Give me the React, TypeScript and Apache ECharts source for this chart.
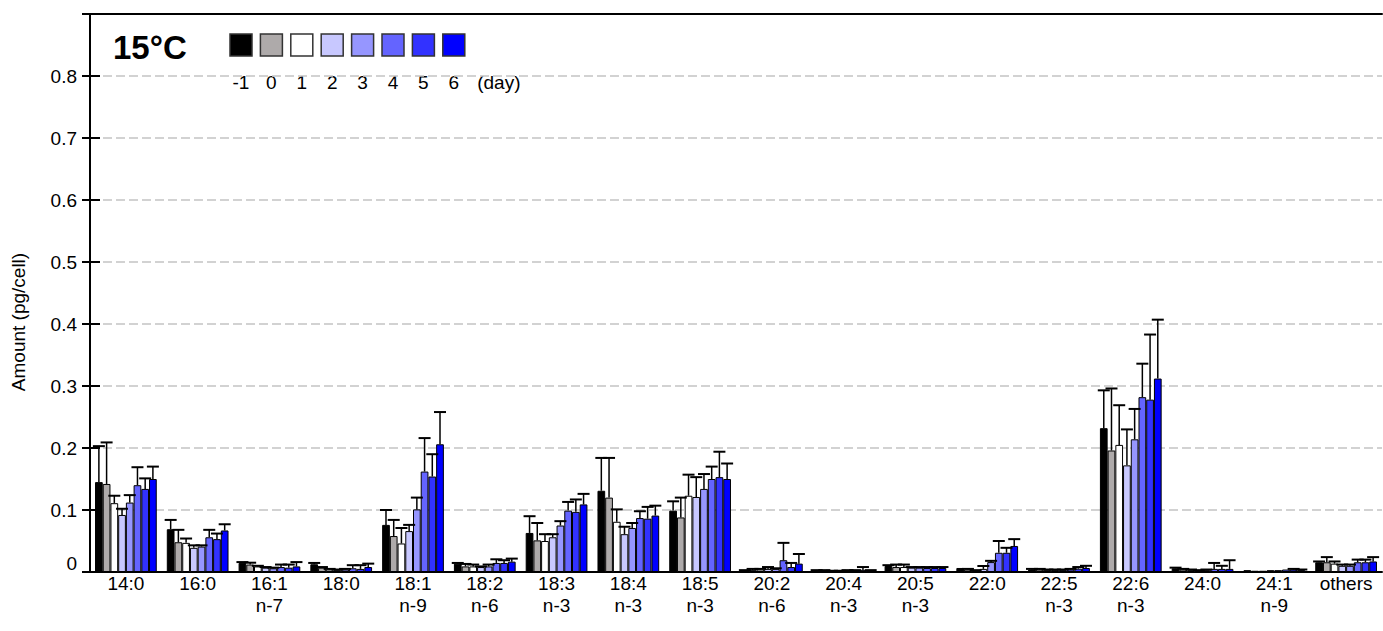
import React, { useEffect, useRef } from "react";
import * as echarts from "echarts";

const categories = ["14:0\n", "16:0\n", "16:1\nn-7", "18:0\n", "18:1\nn-9", "18:2\nn-6", "18:3\nn-3", "18:4\nn-3", "18:5\nn-3", "20:2\nn-6", "20:4\nn-3", "20:5\nn-3", "22:0\n", "22:5\nn-3", "22:6\nn-3", "24:0\n", "24:1\nn-9", "others\n"];
const days = ["-1", "0", "1", "2", "3", "4", "5", "6"];
const dayColors = ["#000000", "#aeaaaa", "#ffffff", "#c8c8ff", "#9696ff", "#6464ff", "#3232ff", "#0000ff"];
const yTicks = [0, 0.1, 0.2, 0.3, 0.4, 0.5, 0.6, 0.7, 0.8];

// mean values (pg/cell), one array per day, in category order
const meanDm1 = [0.145, 0.069, 0.0146, 0.0125, 0.076, 0.0135, 0.063, 0.131, 0.099, 0.0027, 0.0027, 0.0097, 0.0065, 0.004, 0.232, 0.006, 0.003, 0.0157];
const meanD0 = [0.142, 0.048, 0.012, 0.007, 0.058, 0.009, 0.051, 0.12, 0.088, 0.003, 0.002, 0.008, 0.004, 0.004, 0.196, 0.004, 0.002, 0.0157];
const meanD1 = [0.111, 0.047, 0.009, 0.004, 0.046, 0.009, 0.05, 0.081, 0.123, 0.004, 0.001, 0.008, 0.002, 0.003, 0.205, 0.003, 0.002, 0.0135];
const meanD2 = [0.092, 0.039, 0.007, 0.003, 0.066, 0.008, 0.056, 0.061, 0.121, 0.005, 0.001, 0.007, 0.005, 0.003, 0.172, 0.002, 0.003, 0.01];
const meanD3 = [0.112, 0.041, 0.006, 0.004, 0.101, 0.009, 0.075, 0.071, 0.134, 0.005, 0.002, 0.007, 0.016, 0.003, 0.214, 0.003, 0.003, 0.01];
const meanD4 = [0.14, 0.056, 0.008, 0.006, 0.162, 0.0146, 0.099, 0.087, 0.15, 0.019, 0.002, 0.0065, 0.031, 0.004, 0.282, 0.005, 0.004, 0.0157];
const meanD5 = [0.134, 0.053, 0.007, 0.005, 0.154, 0.0146, 0.097, 0.086, 0.153, 0.008, 0.003, 0.0065, 0.031, 0.0054, 0.278, 0.005, 0.004, 0.0157];
const meanD6 = [0.15, 0.067, 0.009, 0.008, 0.206, 0.0167, 0.109, 0.091, 0.15, 0.0135, 0.002, 0.0065, 0.042, 0.0065, 0.312, 0.005, 0.003, 0.017];

// upper end of the error bars (mean + SD)
const upperDm1 = [0.203, 0.084, 0.016, 0.0146, 0.1, 0.0146, 0.09, 0.184, 0.114, 0.003, 0.003, 0.011, 0.0065, 0.005, 0.293, 0.007, 0.003, 0.017];
const upperD0 = [0.209, 0.068, 0.015, 0.008, 0.084, 0.013, 0.079, 0.184, 0.12, 0.005, 0.003, 0.012, 0.005, 0.005, 0.296, 0.005, 0.002, 0.024];
const upperD1 = [0.123, 0.054, 0.01, 0.005, 0.071, 0.012, 0.061, 0.101, 0.157, 0.005, 0.002, 0.012, 0.003, 0.004, 0.269, 0.004, 0.002, 0.017];
const upperD2 = [0.102, 0.043, 0.008, 0.004, 0.076, 0.009, 0.061, 0.073, 0.153, 0.008, 0.002, 0.008, 0.0097, 0.004, 0.23, 0.003, 0.003, 0.012];
const upperD3 = [0.124, 0.043, 0.007, 0.005, 0.12, 0.012, 0.082, 0.079, 0.158, 0.006, 0.003, 0.008, 0.018, 0.004, 0.263, 0.004, 0.003, 0.012];
const upperD4 = [0.169, 0.068, 0.012, 0.011, 0.216, 0.0205, 0.113, 0.098, 0.17, 0.047, 0.003, 0.008, 0.05, 0.005, 0.336, 0.0146, 0.004, 0.02];
const upperD5 = [0.151, 0.062, 0.012, 0.011, 0.19, 0.019, 0.117, 0.105, 0.194, 0.0146, 0.008, 0.008, 0.039, 0.008, 0.383, 0.01, 0.005, 0.02];
const upperD6 = [0.17, 0.077, 0.016, 0.0135, 0.258, 0.0216, 0.126, 0.107, 0.175, 0.029, 0.003, 0.008, 0.053, 0.01, 0.407, 0.019, 0.004, 0.024];

const means = [meanDm1, meanD0, meanD1, meanD2, meanD3, meanD4, meanD5, meanD6];
const uppers = [upperDm1, upperD0, upperD1, upperD2, upperD3, upperD4, upperD5, upperD6];

const FONT = "'Liberation Sans', Arial, Helvetica, sans-serif";
const CAT_GAP = 0.14;

export default function App() {
  const ref = useRef<HTMLDivElement>(null);

  useEffect(() => {
    if (!ref.current) return;
    const chart = echarts.init(ref.current, null, { renderer: "svg" });

    const barSeries = days.map((d, i) => ({
      name: d,
      type: "bar",
      data: means[i],
      barGap: "0%",
      barCategoryGap: CAT_GAP * 100 + "%",
      itemStyle: { color: dayColors[i], borderColor: "#000", borderWidth: 1 },
      z: 2,
    }));

    const errData: number[][] = [];
    for (let d = 0; d < days.length; d++) {
      for (let c = 0; c < categories.length; c++) {
        errData.push([c, d, means[d][c], uppers[d][c]]);
      }
    }

    const errSeries = {
      type: "custom",
      coordinateSystem: "cartesian2d",
      data: errData,
      encode: { x: 0, y: 3 },
      z: 5,
      silent: true,
      renderItem: (params: any, api: any) => {
        const c = api.value(0);
        const d = api.value(1);
        const v = api.value(2);
        const u = api.value(3);
        if (!(u > v)) return null;
        const band = api.size([1, 0])[0];
        const bw = (band * (1 - CAT_GAP)) / days.length;
        const base = api.coord([c, v]);
        const top = api.coord([c, u]);
        const x = base[0] + (d - (days.length - 1) / 2) * bw;
        return {
          type: "group",
          children: [
            { type: "line", shape: { x1: x, y1: base[1], x2: x, y2: top[1] }, style: { stroke: "#000", lineWidth: 1.5 } },
            { type: "line", shape: { x1: x - 6, y1: top[1], x2: x + 6, y2: top[1] }, style: { stroke: "#000", lineWidth: 2 } },
          ],
        };
      },
    };

    const legendX0 = 230;
    const legendPitch = 30.4;
    const graphics: any[] = [
      {
        type: "text",
        left: 113,
        top: 31,
        style: { text: "15°C", font: `bold 33px ${FONT}`, fill: "#000" },
      },
      {
        type: "text",
        x: 18,
        y: 322,
        rotation: Math.PI / 2,
        style: { text: "Amount (pg/cell)", font: `19px ${FONT}`, fill: "#000", align: "center", verticalAlign: "middle" },
      },
    ];
    days.forEach((d, i) => {
      const x = legendX0 + i * legendPitch;
      graphics.push({
        type: "rect",
        shape: { x, y: 34, width: 22, height: 22 },
        style: { fill: dayColors[i], stroke: "#333", lineWidth: 1.5 },
      });
      graphics.push({
        type: "text",
        x: x + 11,
        y: 82,
        style: { text: d, font: `19px ${FONT}`, fill: "#000", align: "center", verticalAlign: "middle" },
      });
    });
    graphics.push({
      type: "text",
      x: legendX0 + 8 * legendPitch + 4,
      y: 82,
      style: { text: "(day)", font: `19px ${FONT}`, fill: "#000", align: "left", verticalAlign: "middle" },
    });

    chart.setOption({
      animation: false,
      backgroundColor: "#fff",
      textStyle: { fontFamily: FONT },
      grid: { left: 90, right: 1, top: 14, bottom: 59, containLabel: false },
      xAxis: [
        {
          type: "category",
          data: categories,
          position: "bottom",
          axisLine: { show: true, onZero: false, lineStyle: { color: "#000", width: 2 } },
          axisTick: { show: false },
          axisLabel: { interval: 0, color: "#000", fontSize: 19, lineHeight: 22, margin: 0, fontFamily: FONT },
          splitLine: { show: false },
        },
        {
          type: "category",
          data: categories,
          position: "top",
          axisLine: { show: true, onZero: false, lineStyle: { color: "#000", width: 2 } },
          axisTick: { show: false },
          axisLabel: { show: false },
          splitLine: { show: false },
        },
      ],
      yAxis: [
        {
          type: "value",
          position: "left",
          min: 0,
          max: 0.9,
          interval: 0.1,
          axisLine: { show: true, lineStyle: { color: "#000", width: 2 } },
          axisTick: { show: true, inside: false, length: 8, lineStyle: { color: "#000", width: 2 } },
          axisLabel: {
            color: "#000",
            fontSize: 19,
            margin: 13,
            fontFamily: FONT,
            formatter: (v: number) => {
              const t = yTicks.find((k) => Math.abs(k - v) < 1e-6);
              if (t === undefined) return "";
              if (t === 0) return "{z|0}";
              return t.toFixed(1);
            },
            rich: { z: { fontSize: 19, fontFamily: FONT, color: "#000", padding: [0, 0, 18, 0] } },
          },
          splitLine: { show: true, lineStyle: { color: "#c4c4c4", width: 1.5, type: [9, 4] } },
        },
        {
          type: "value",
          position: "left",
          offset: 0,
          min: 0,
          max: 0.9,
          interval: 0.1,
          axisLine: { show: false },
          axisTick: { show: true, inside: true, length: 10, lineStyle: { color: "#000", width: 2 } },
          axisLabel: { show: false },
          splitLine: { show: false },
        },
      ],
      series: [...barSeries, errSeries],
      graphic: graphics,
    });

    return () => chart.dispose();
  }, []);

  return <div ref={ref} style={{ position: "absolute", left: 0, top: 0, width: 1383, height: 631 }} />;
}
